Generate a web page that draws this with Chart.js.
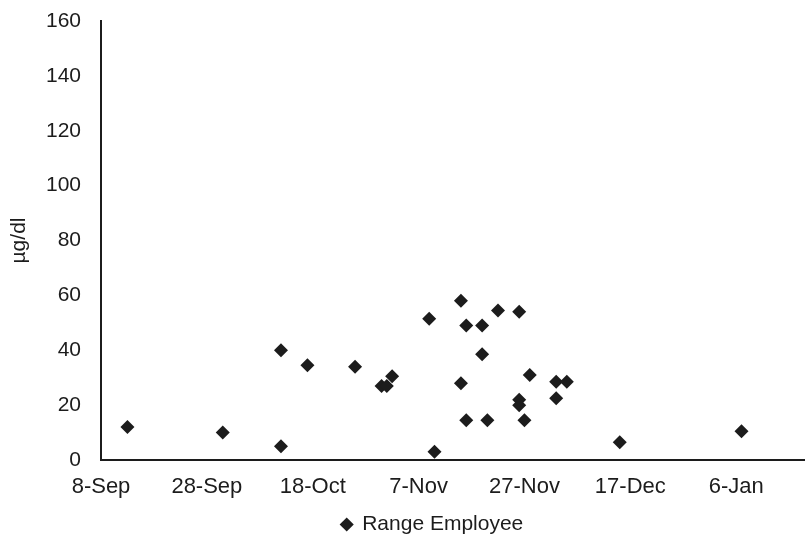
<!DOCTYPE html>
<html>
<head>
<meta charset="utf-8">
<script src="https://cdn.jsdelivr.net/npm/chart.js@4"></script>
<style>
  html, body { margin: 0; padding: 0; background: #fff; overflow: hidden; }
  #wrap { width: 805px; height: 537px; }
</style>
</head>
<body>
<div id="wrap"><canvas id="myChart"></canvas></div>
<script>
// sample dates and blood lead values (ug/dl)
const sampleDates = [
  "2010-09-13", "2010-10-01", "2010-10-12", "2010-10-12", "2010-10-17",
  "2010-10-26", "2010-10-31", "2010-11-01", "2010-11-02", "2010-11-09",
  "2010-11-10", "2010-11-15", "2010-11-15", "2010-11-16", "2010-11-16",
  "2010-11-19", "2010-11-19", "2010-11-20", "2010-11-22", "2010-11-26",
  "2010-11-26", "2010-11-26", "2010-11-27", "2010-11-28", "2010-12-03",
  "2010-12-03", "2010-12-05", "2010-12-15", "2011-01-07"
];
const leadValues = [
  12, 10, 40, 5, 34.5,
  34, 27, 27, 30.5, 51.5,
  3, 58, 28, 49, 14.5,
  49, 38.5, 14.5, 54.5, 54,
  22, 20, 14.5, 31, 28.5,
  22.5, 28.5, 6.5, 10.5
];
const startDate = "2010-09-08";
const endDay = 133;
const dayStep = 20;
const yTicks = [0, 20, 40, 60, 80, 100, 120, 140, 160];
const monthNames = ["Jan", "Feb", "Mar", "Apr", "May", "Jun", "Jul", "Aug", "Sep", "Oct", "Nov", "Dec"];

const DAY = 86400000;
const t0 = Date.parse(startDate);
const points = sampleDates.map((d, i) => ({ x: (Date.parse(d) - t0) / DAY, y: leadValues[i] }));

function dayLabel(v) {
  const d = new Date(t0 + v * DAY);
  return d.getUTCDate() + "-" + monthNames[d.getUTCMonth()];
}

const ink = "#1c1c1c";
Chart.defaults.font.family = "'Liberation Sans', Arial, sans-serif";
Chart.defaults.font.size = 21;
Chart.defaults.color = ink;

// move the legend a bit right and down, like the original
const legendShift = {
  id: "legendShift",
  afterLayout(chart) {
    const lg = chart.legend;
    lg.left = 60;
    lg.top += 8;
    lg.bottom += 8;
  }
};

const ctx = document.getElementById("myChart").getContext("2d");
new Chart(ctx, {
  type: "scatter",
  data: {
    datasets: [{
      label: "Range Employee",
      data: points,
      pointStyle: "rectRot",
      pointRadius: 7,
      pointHoverRadius: 7,
      backgroundColor: ink,
      borderColor: ink,
      borderWidth: 0
    }]
  },
  options: {
    responsive: true,
    maintainAspectRatio: false,
    animation: false,
    layout: { autoPadding: false, padding: 0 },
    plugins: {
      tooltip: { enabled: false },
      legend: {
        position: "bottom",
        labels: {
          usePointStyle: true,
          pointStyle: "rectRot",
          boxWidth: 10,
          boxHeight: 10,
          padding: 7,
          color: ink,
          font: { size: 21 }
        }
      }
    },
    scales: {
      x: {
        type: "linear",
        min: 0,
        max: endDay,
        grid: { display: false, drawTicks: false },
        border: { display: true, color: ink, width: 2 },
        afterBuildTicks: (scale) => {
          scale.ticks = scale.ticks.filter((t) => t.value % dayStep === 0);
        },
        afterFit: (scale) => {
          scale.height = scale.chart.height - 460 - scale.chart.legend.height;
        },
        ticks: {
          stepSize: dayStep,
          padding: 14,
          maxRotation: 0,
          autoSkip: false,
          font: { size: 22 },
          callback: (v) => dayLabel(v)
        }
      },
      y: {
        min: yTicks[0],
        max: yTicks[yTicks.length - 1],
        grid: { display: false, drawTicks: false },
        border: { display: true, color: ink, width: 2 },
        afterFit: (scale) => {
          scale.width = 101;
          scale.paddingTop = 21;
        },
        ticks: { stepSize: 20, padding: 20 },
        title: {
          display: true,
          text: "µg/dl",
          font: { size: 21 },
          padding: { top: 7, bottom: 4 }
        }
      }
    }
  },
  plugins: [legendShift]
});
</script>
</body>
</html>
